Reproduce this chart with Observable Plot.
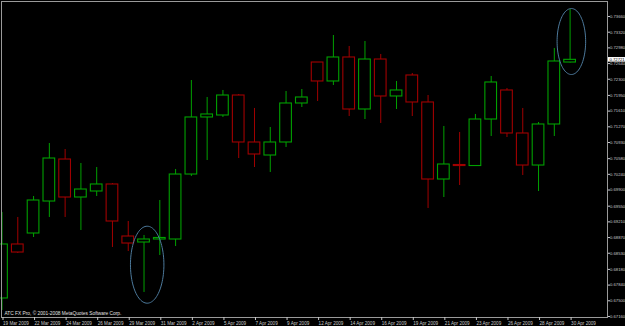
<!DOCTYPE html>
<html><head><meta charset="utf-8">
<script src="https://cdn.jsdelivr.net/npm/d3@7"></script>
<script src="https://cdn.jsdelivr.net/npm/@observablehq/plot@0.6"></script>
<style>
html,body{margin:0;padding:0;background:#000;}
#chart{width:625px;height:326px;overflow:hidden;}
</style></head><body><div id="chart"></div>
<script>
const dates = ["19 Mar 2009","20 Mar 2009","22 Mar 2009","23 Mar 2009","24 Mar 2009","25 Mar 2009","26 Mar 2009","27 Mar 2009","29 Mar 2009","30 Mar 2009","31 Mar 2009","1 Apr 2009","2 Apr 2009","3 Apr 2009","5 Apr 2009","6 Apr 2009","7 Apr 2009","8 Apr 2009","9 Apr 2009","10 Apr 2009","12 Apr 2009","13 Apr 2009","14 Apr 2009","15 Apr 2009","16 Apr 2009","17 Apr 2009","19 Apr 2009","20 Apr 2009","21 Apr 2009","22 Apr 2009","23 Apr 2009","24 Apr 2009","26 Apr 2009","27 Apr 2009","28 Apr 2009","29 Apr 2009","30 Apr 2009"];
const open  = [0.67550,0.68720,0.68958,0.69651,0.70561,0.69738,0.69868,0.70020,0.68893,0.68763,0.68828,0.68828,0.70236,0.71472,0.71515,0.71948,0.70930,0.70648,0.70930,0.71775,0.72663,0.72252,0.72772,0.71645,0.72728,0.71927,0.72382,0.71797,0.70128,0.70442,0.70420,0.71428,0.72057,0.71125,0.70431,0.71320,0.72663];
const high  = [0.69413,0.69305,0.69760,0.70908,0.70778,0.70475,0.70388,0.70041,0.69218,0.68915,0.69673,0.70345,0.72273,0.71905,0.72057,0.71970,0.71667,0.71255,0.72035,0.72078,0.72663,0.73248,0.73010,0.73118,0.72837,0.72252,0.72425,0.71948,0.71277,0.71147,0.71537,0.72360,0.72100,0.71667,0.71363,0.72967,0.73812];
const low   = [0.67290,0.68525,0.68871,0.69305,0.69305,0.69023,0.69760,0.68655,0.68568,0.67680,0.68481,0.68676,0.70193,0.70540,0.71472,0.70583,0.70388,0.70280,0.70822,0.71688,0.71818,0.72165,0.71493,0.71428,0.71342,0.71645,0.71493,0.69500,0.69738,0.69998,0.70415,0.71060,0.71038,0.70215,0.69868,0.71060,0.72652];
const close = [0.68720,0.68546,0.69673,0.70583,0.69738,0.69911,0.70020,0.69218,0.68741,0.68828,0.68861,0.70236,0.71472,0.71537,0.71948,0.70930,0.70670,0.70930,0.71775,0.71905,0.72252,0.72772,0.71645,0.72728,0.71927,0.72057,0.71797,0.70128,0.70453,0.70420,0.71428,0.72230,0.71125,0.70431,0.71320,0.72685,0.72721];
const yTicks = [0.73660,0.73320,0.72980,0.72640,0.72300,0.71950,0.71610,0.71270,0.70930,0.70580,0.70240,0.69900,0.69550,0.69210,0.68870,0.68530,0.68180,0.67840,0.67500,0.67160];
const xTickEvery = 2;
const copyright = "ATC FX Pro, \u00A9 2001-2008 MetaQuotes Software Corp.";
// annotation ellipses: centre bar index, centre price, half-width (bars), half-height (price)
const ellipseBar = [9.2, 36.08];
const ellipsePrice = [0.68282, 0.73118];
const ellipseRBars = [1.06, 0.905];
const ellipseRPrice = [0.00834, 0.00715];

const GREEN = "#00a000", RED = "#a00000", GRID = "#9a9a9a", TXT = "#c8c8c8";
const xDomain = [-0.032, 38.37];
const yDomain = [0.671378, 0.73985];

const candles = dates.map((d, i) => ({i, date: d, o: open[i], h: high[i], l: low[i], c: close[i], up: close[i] >= open[i]}));
const ellPts = [];
ellipseBar.forEach((cx, k) => {
  for (const t of d3.range(0, 2 * Math.PI, Math.PI / 48)) {
    ellPts.push({k, x: cx + ellipseRBars[k] * Math.cos(t), y: ellipsePrice[k] + ellipseRPrice[k] * Math.sin(t)});
  }
});
const xTicks = dates.map((d, i) => i).filter(i => i % xTickEvery === 0);
const last = close[close.length - 1];

const chart = Plot.plot({
  width: 625, height: 326,
  marginLeft: 1, marginRight: 18, marginTop: 1, marginBottom: 9,
  style: {background: "#000", color: TXT, fontFamily: "'Liberation Sans', Arial, sans-serif", overflow: "visible"},
  x: {type: "linear", domain: xDomain, axis: null},
  y: {type: "linear", domain: yDomain, axis: null},
  marks: [
    Plot.ruleX(candles, {x: "i", y1: "l", y2: "h", stroke: d => d.up ? GREEN : RED, strokeWidth: 1}),
    Plot.rect(candles, {x1: d => d.i - 0.37, x2: d => d.i + 0.37, y1: "o", y2: "c", fill: "#000", stroke: d => d.up ? GREEN : RED, strokeWidth: 1.1}),
    Plot.line(ellPts, {x: "x", y: "y", z: "k", curve: "linear-closed", stroke: "#4d7a9c", strokeWidth: 1}),
    Plot.frame({stroke: GRID, strokeWidth: 1}),
    Plot.axisY(yTicks, {anchor: "right", tickSize: 2, tickPadding: 0.5, tickFormat: d => d.toFixed(5), fontSize: 4.2, color: TXT}),
    Plot.axisX(xTicks, {anchor: "bottom", tickSize: 3, tickPadding: 1, tickFormat: i => dates[i], textAnchor: "start", dx: 1, fontSize: 4.6, color: TXT}),
    Plot.rect([last], {x1: () => xDomain[1], x2: () => xDomain[1], y1: d => d, y2: d => d, insetTop: -2.3, insetBottom: -2.3, insetLeft: 1, insetRight: -18, fill: "#fff"}),
    Plot.text([last], {x: () => xDomain[1], y: d => d, text: d => d.toFixed(5), dx: 2, textAnchor: "start", fill: "#000", fontSize: 4.2}),
    Plot.text([copyright], {frameAnchor: "bottom-left", dx: 3, dy: -4, lineAnchor: "middle", textAnchor: "start", fill: "#e0e0e0", fontSize: 4.8})
  ]
});
document.getElementById("chart").appendChild(chart);
</script>
</body></html>
